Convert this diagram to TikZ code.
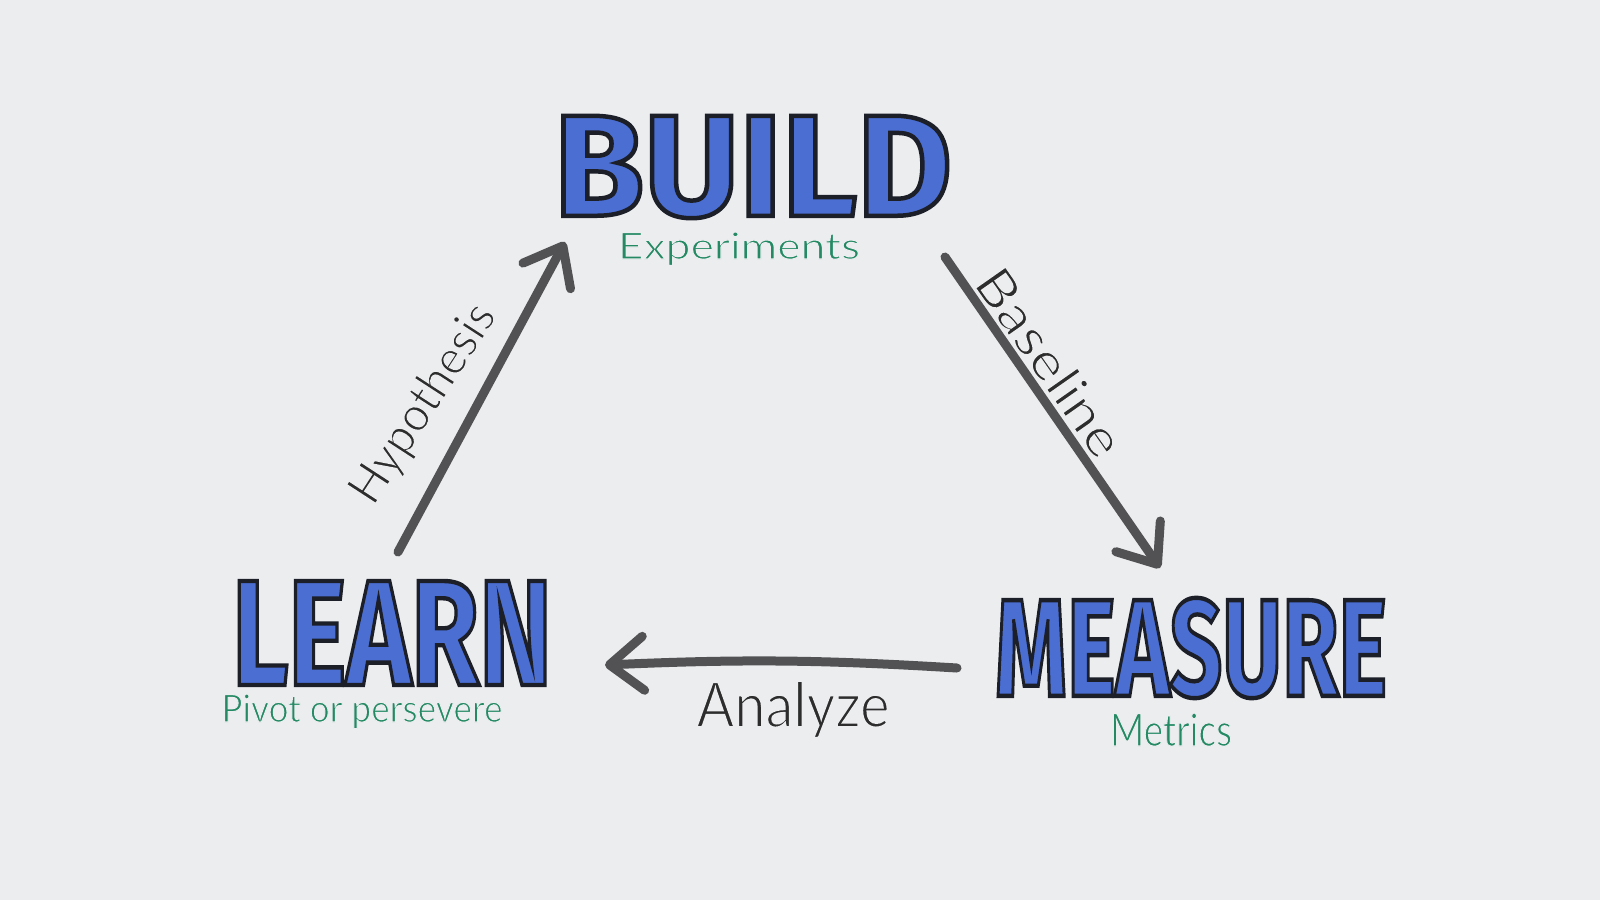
\documentclass[tikz,border=0pt]{standalone}
\usepackage{fontspec}
\usepackage{graphicx}
\usetikzlibrary{arrows.meta}
\newfontfamily\bigfont{Fira Sans}
\newfontfamily\handfont{Lato}
\definecolor{bg}{RGB}{236,237,239}
\definecolor{inkblue}{RGB}{74,110,210}
\definecolor{inkgreen}{RGB}{36,138,100}
\definecolor{inkgray}{RGB}{82,82,84}
\definecolor{inktext}{RGB}{45,45,45}
% outlined marker word: fill blue, stroke dark (PDF text render mode 2)
\newcommand{\markerword}[7]{%
  \node[inner sep=0pt,text=inkblue] (#1) at (#2,#3)
    {\resizebox{#4pt}{#5pt}{\fontsize{#6}{#6}\bigfont\bfseries
      \special{pdf:literal direct 2 Tr 4.5 w 0.11 0.118 0.157 RG}#7\special{pdf:literal direct 0 Tr}}};}
% thin pen text: fill, then stroke with the background colour to thin the strokes
\newcommand{\pen}[3]{\fontsize{#1}{#1}\handfont
  \special{pdf:literal direct 2 Tr #2 w 0.925 0.929 0.937 RG}#3\special{pdf:literal direct 0 Tr}}
\tikzset{
  flow/.style={draw=inkgray, line width=9pt, line cap=round,
    -{Straight Barb[length=34pt,width=54pt,line cap=round,line join=round]}},
  sub/.style={inner sep=0pt, text=inkgreen},
  lbl/.style={inner sep=0pt, text=inktext}
}
\begin{document}
\begin{tikzpicture}[x=1pt,y=-1pt]
\fill[bg] (0,0) rectangle (1600,900);
\useasboundingbox (0,0) rectangle (1600,900);

\markerword{build}{753}{167}{398}{100}{145}{BUILD}
\markerword{learn}{392}{633}{320}{104}{154}{LEARN}
\markerword{measure}{1191}{648}{392}{98}{142}{MEASURE}

\node[sub, anchor=base] (exp) at (739,259) {\resizebox{242pt}{27pt}{\pen{37.5}{1.1}{Experiments}}};
\node[sub, anchor=base] (piv) at (362,722) {\resizebox{281pt}{28pt}{\pen{39}{1.1}{Pivot or persevere}}};
\node[sub, anchor=base] (met) at (1171,746) {\resizebox{122pt}{33pt}{\pen{46}{1.2}{Metrics}}};

\coordinate (h0) at (398,552);
\coordinate (h1) at (565,242);
\coordinate (b0) at (945,257);
\coordinate (b1) at (1160,568);
\coordinate (a0) at (957,668);
\coordinate (a1) at (605,665);

\draw[flow] (h0) -- (h1);
\draw[flow] (b0) -- (b1);
\draw[flow] (a0) to[bend right=3] (a1);

\node[lbl, rotate=57] (hyp) at (424,404) {\resizebox{228pt}{36pt}{\pen{49}{1.5}{Hypothesis}}};
\node[lbl, rotate=-55] (base) at (1050,362) {\resizebox{218pt}{38pt}{\pen{51}{1.5}{Baseline}}};
\node[lbl, anchor=base] (ana) at (793,727) {\resizebox{193pt}{46pt}{\pen{62}{1.8}{Analyze}}};
\end{tikzpicture}
\end{document}
